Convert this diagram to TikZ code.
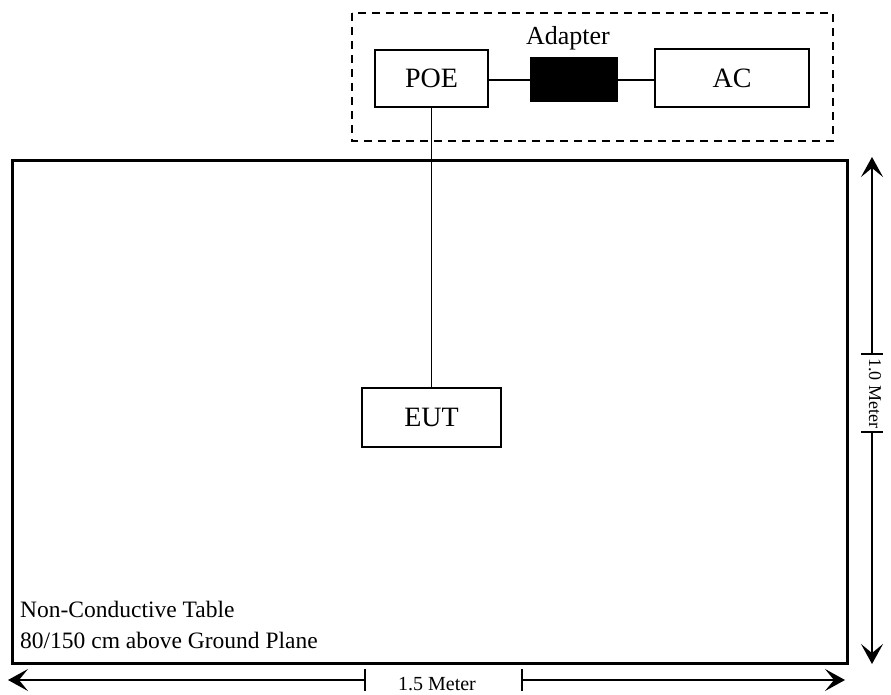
\documentclass[tikz,border=0pt]{standalone}
\usepackage{fontspec}
\setmainfont{Liberation Serif}
\usetikzlibrary{arrows.meta}
\begin{document}
\begin{tikzpicture}[x=1pt,y=-1pt,
  box/.style={draw,line width=1.8pt,inner sep=0pt,font=\fontsize{28}{30}\selectfont},
  wire/.style={line width=1.7pt},
  dim/.style={line width=1.6pt},
  tip/.style={-{Stealth[length=20pt,width=22pt,inset=9pt]}},
  lbl/.style={inner sep=0pt}]
\useasboundingbox (0,0) rectangle (891,695);
% dashed group
\draw[line width=1.6pt,dash pattern=on 8pt off 6pt] (352,13) rectangle (833,141);
% table
\draw[line width=3pt] (12,161) rectangle (847,663);
% nodes
\node[box,minimum width=113pt,minimum height=57pt] (poe) at (431.5,78.5) {POE};
\node[draw,fill=black,line width=1pt,inner sep=0pt,minimum width=87pt,minimum height=44pt] (adp) at (573.5,80) {};
\node[lbl,font=\fontsize{26}{28}\selectfont,anchor=base] (adptxt) at (568,45) {Adapter};
\node[box,minimum width=154pt,minimum height=58pt] (ac) at (732,78) {AC};
\node[box,minimum width=139pt,minimum height=59pt] (eut) at (431.5,417.5) {EUT};
% connectors
\draw[wire] (poe.east |- adp.west) -- (adp.west);
\draw[wire] (adp.east) -- (ac.west |- adp.east);
\draw[wire] (poe.south) -- (eut.north);
% table text
\node[lbl,anchor=base west,align=left,font=\fontsize{23.5}{31}\selectfont] (tabtxt) at (20,648) {Non-Conductive Table\\80/150 cm above Ground Plane};
% horizontal dimension
\coordinate (hl) at (8,680);
\coordinate (hr) at (845,680);
\coordinate (ht1) at (365,680);
\coordinate (ht2) at (522,680);
\node[lbl,font=\fontsize{20}{22}\selectfont] (hlabel) at (437,684) {1.5 Meter};
\draw[dim,tip] (ht1) -- (hl);
\draw[dim,tip] (ht2) -- (hr);
\draw[dim] ([yshift=-11pt]ht1) -- ([yshift=11pt]ht1);
\draw[dim] ([yshift=-11pt]ht2) -- ([yshift=11pt]ht2);
% vertical dimension
\coordinate (vt) at (872,157);
\coordinate (vb) at (872,664);
\coordinate (vt1) at (872,354);
\coordinate (vt2) at (872,432);
\node[lbl,rotate=-90,font=\fontsize{18}{20}\selectfont] (vlabel) at (875,393) {1.0 Meter};
\draw[dim,tip] (vt1) -- (vt);
\draw[dim,tip] (vt2) -- (vb);
\draw[dim] ([xshift=-11pt]vt1) -- ([xshift=11pt]vt1);
\draw[dim] ([xshift=-11pt]vt2) -- ([xshift=11pt]vt2);
\end{tikzpicture}
\end{document}
